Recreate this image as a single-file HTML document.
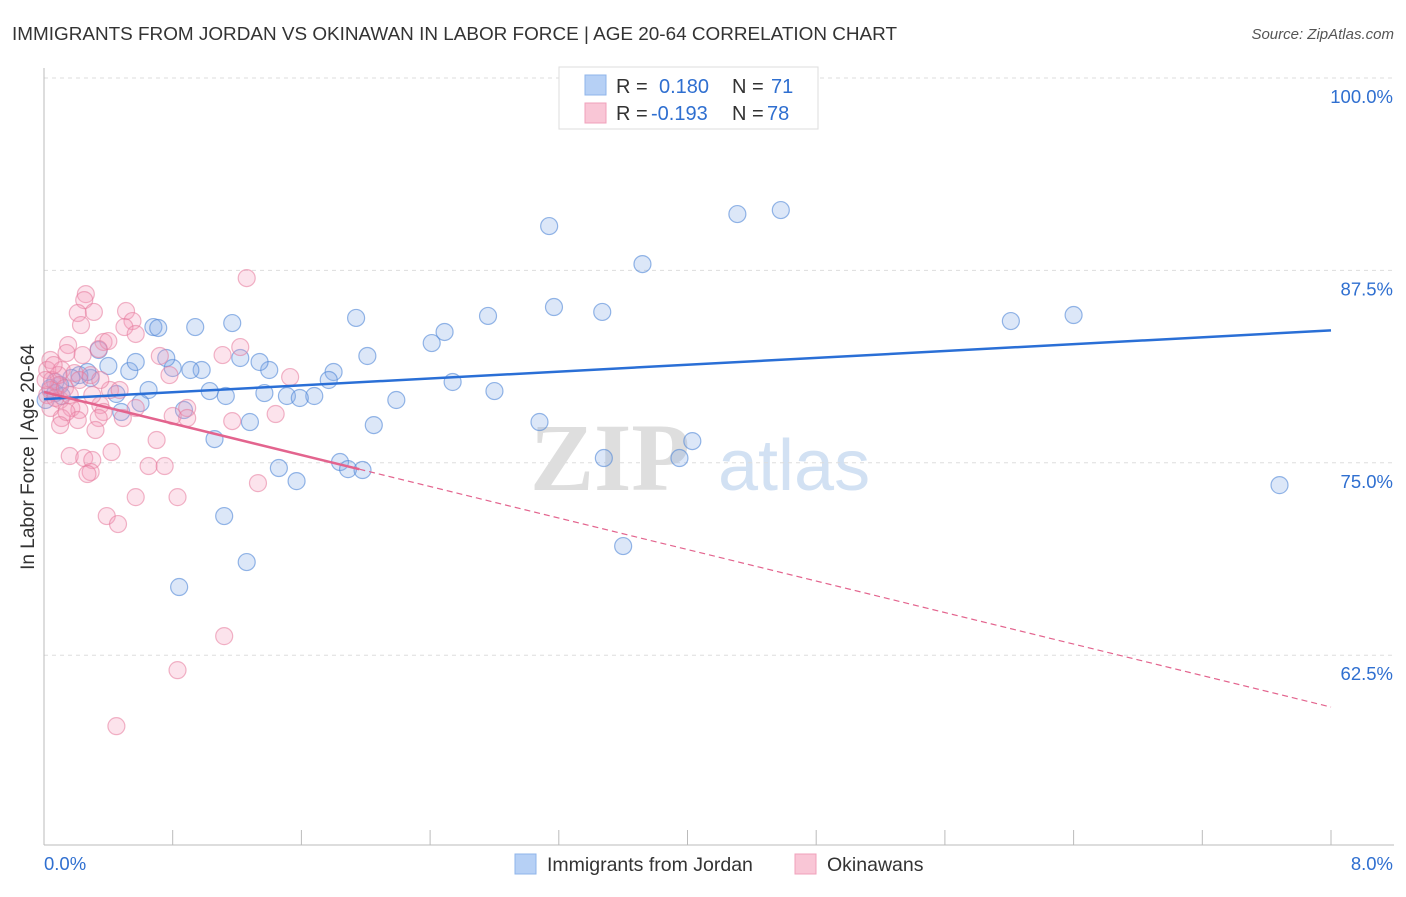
<!DOCTYPE html>
<html><head><meta charset="utf-8"><style>
body{margin:0;background:#fff;font-family:"Liberation Sans",sans-serif}
#wrap{position:relative;width:1406px;height:892px}
</style></head><body>
<div id="wrap">
<svg id="svg" width="1406" height="892" xmlns="http://www.w3.org/2000/svg">
<text x="12" y="40" font-size="18.9" fill="#333" textLength="885">IMMIGRANTS FROM JORDAN VS OKINAWAN IN LABOR FORCE | AGE 20-64 CORRELATION CHART</text>
<text x="1394" y="39" font-size="15" fill="#555" font-style="italic" text-anchor="end">Source: ZipAtlas.com</text>
<text x="34" y="457" font-size="19" fill="#333" text-anchor="middle" transform="rotate(-90 34 457)">In Labor Force | Age 20-64</text>
<text x="690" y="490" font-size="96" font-weight="bold" fill="#dedede" text-anchor="end" font-family="Liberation Serif,serif">ZIP</text>
<text x="718" y="490" font-size="72" fill="#d2e1f3">atlas</text>
<g id="grid"></g><g id="pts"></g><g id="lines"></g>
<g>
<rect x="559" y="67" width="259" height="62" fill="#fff" stroke="#ddd"/>
<rect x="585" y="75" width="21" height="20" fill="#b6d0f5" stroke="#8fb4ea"/>
<rect x="585" y="103" width="21" height="20" fill="#f9c6d6" stroke="#f0a0bb"/>
<text x="616" y="93" font-size="20" fill="#333">R = </text><text x="659" y="93" font-size="20" fill="#2f6fd0">0.180</text>
<text x="732" y="93" font-size="20" fill="#333">N = </text><text x="771" y="93" font-size="20" fill="#2f6fd0">71</text>
<text x="616" y="120" font-size="20" fill="#333">R = </text><text x="651" y="120" font-size="20" fill="#2f6fd0">-0.193</text>
<text x="732" y="120" font-size="20" fill="#333">N = </text><text x="767" y="120" font-size="20" fill="#2f6fd0">78</text>
</g>
<g>
<rect x="515" y="854" width="21" height="20" fill="#b6d0f5" stroke="#8fb4ea"/>
<text x="547" y="871" font-size="19.5" fill="#333">Immigrants from Jordan</text>
<rect x="795" y="854" width="21" height="20" fill="#f9c6d6" stroke="#f0a0bb"/>
<text x="827" y="871" font-size="19.5" fill="#333">Okinawans</text>
</g>
</svg></div>
<script>
const yTicks=[100,87.5,75,62.5];
const yTickLabels=["100.0%","87.5%","75.0%","62.5%"];
const xEndLabels=["0.0%","8.0%"];
const blueX=[3.39,3.14,4.31,4.58,3.72,6.01,6.40,7.68,3.60,3.95,4.03,3.48,3.08,2.80,2.54,2.49,2.41,2.76,3.17,3.47,1.94,2.01,2.19,2.05,1.80,1.77,1.68,1.51,1.59,1.37,1.40,1.34,1.22,1.17,0.94,0.98,0.91,1.03,1.13,1.28,1.06,0.87,0.80,0.76,0.68,0.71,0.65,0.60,0.48,0.53,0.57,0.40,0.34,0.29,0.22,0.17,0.10,0.07,0.04,0.11,0.07,1.46,1.57,1.84,1.89,1.98,1.12,1.26,0.84,0.45,0.01,0.27];
const blueY=[99.09,90.38,91.16,91.42,87.91,84.21,84.60,73.55,69.59,75.31,76.41,75.31,77.65,79.66,80.25,83.50,82.78,84.54,85.12,84.80,84.41,81.94,79.08,77.45,80.90,80.38,79.34,79.34,79.21,79.53,81.03,81.55,81.81,84.08,83.82,81.03,81.03,79.66,79.34,77.65,76.54,78.43,81.16,81.81,83.82,83.76,79.73,78.88,78.30,80.96,81.55,81.29,82.33,80.51,80.70,80.51,80.05,80.25,79.86,79.34,79.53,74.66,73.81,75.05,74.59,74.53,71.54,68.55,66.93,79.47,79.08,80.90];
const pinkX=[1.26,0.26,0.25,0.51,0.21,0.31,0.55,0.50,0.23,0.57,0.37,0.40,0.34,0.15,0.14,0.24,0.72,1.11,1.22,0.78,1.53,0.04,0.02,0.11,0.19,0.29,0.05,0.09,0.02,0.10,0.04,0.17,0.22,0.35,0.37,0.34,0.21,0.11,0.49,0.57,0.80,0.89,0.89,1.17,1.44,0.70,0.42,0.16,0.25,0.30,0.29,0.27,0.65,0.75,0.57,0.83,1.33,0.39,0.46,1.12,0.83,0.45,0.41,0.30,0.09,0.04,0.07,0.13,0.01,0.06,0.22,0.47,0.35,0.16,0.14,0.32,0.10];
const pinkY=[87.00,85.96,85.57,84.86,84.73,84.80,84.21,83.82,83.95,83.37,82.85,82.91,82.39,82.65,82.13,82.00,81.94,82.00,82.52,80.70,80.57,81.68,81.03,81.03,80.83,80.70,80.38,80.05,79.40,79.08,78.56,78.56,78.43,78.75,78.30,77.91,77.78,77.91,77.91,78.56,78.04,78.56,77.91,77.71,78.17,76.48,75.70,75.44,75.31,75.18,74.40,74.27,74.79,74.79,72.77,72.77,73.68,71.54,71.02,63.74,61.53,57.89,79.73,79.40,80.70,79.73,79.21,79.86,80.38,81.35,80.38,79.73,80.38,79.40,78.30,77.13,77.45];
const blueTrend=[79.14,83.6];   // y at x=0 and x=8
const pinkTrend=[79.6,59.13];
const pinkSolidEnd=1.96;
const NS="http://www.w3.org/2000/svg";
const X=v=>44+v*(1331-44)/8;
const Y=v=>78+(100-v)*(192.4/12.5);
function mk(tag,attrs,parent){const e=document.createElementNS(NS,tag);for(const k in attrs)e.setAttribute(k,attrs[k]);parent.appendChild(e);return e;}
const grid=document.getElementById('grid'),pts=document.getElementById('pts'),lines=document.getElementById('lines'),svg=document.getElementById('svg');
yTicks.forEach((t,i)=>{
 const l=mk('line',{x1:44,x2:1394,y1:Y(t),y2:Y(t),stroke:'#ddd','stroke-dasharray':'4 4'},grid);
 
 
 const tx=mk('text',{x:1393,y:Y(t)+25,'font-size':18.5,fill:'#2f6fd0','text-anchor':'end'},grid);
 tx.textContent=yTickLabels[i];
 
 
});
const ya=mk('line',{x1:44,x2:44,y1:68,y2:845,stroke:'#bbb'},grid);


const xa=mk('line',{x1:44,x2:1394,y1:845,y2:845,stroke:'#bbb'},grid);


for(let i=0;i<=10;i++){const t=mk('line',{x1:X(i*0.8),x2:X(i*0.8),y1:830,y2:845,stroke:'#bbb'},grid);
 
 }
const xl0=mk('text',{x:44,y:870,'font-size':18.5,fill:'#2f6fd0'},grid);xl0.textContent=xEndLabels[0];


const xl1=mk('text',{x:1393,y:870,'font-size':18.5,fill:'#2f6fd0','text-anchor':'end'},grid);xl1.textContent=xEndLabels[1];


blueX.forEach((x,i)=>{const c=mk('circle',{cx:X(x),cy:Y(blueY[i]),r:8.5,fill:'rgba(130,170,230,0.28)',stroke:'rgba(80,135,215,0.6)','stroke-width':1.2},pts);
 
 });
pinkX.forEach((x,i)=>{const c=mk('circle',{cx:X(x),cy:Y(pinkY[i]),r:8.5,fill:'rgba(245,155,185,0.28)',stroke:'rgba(230,120,155,0.55)','stroke-width':1.2},pts);
 
 });
const bl=mk('line',{x1:X(0),y1:Y(blueTrend[0]),x2:X(8),y2:Y(blueTrend[1]),stroke:'#2a6fd6','stroke-width':2.5},lines);


const pAt=x=>pinkTrend[0]+(pinkTrend[1]-pinkTrend[0])*x/8;
const ps=mk('line',{x1:X(0),y1:Y(pAt(0)),x2:X(pinkSolidEnd),y2:Y(pAt(pinkSolidEnd)),stroke:'#e3648e','stroke-width':2.5},lines);


const pd=mk('line',{x1:X(pinkSolidEnd),y1:Y(pAt(pinkSolidEnd)),x2:X(8),y2:Y(pAt(8)),stroke:'#e3648e','stroke-width':1.2,'stroke-dasharray':'6 4'},lines);


</script>
</body></html>
